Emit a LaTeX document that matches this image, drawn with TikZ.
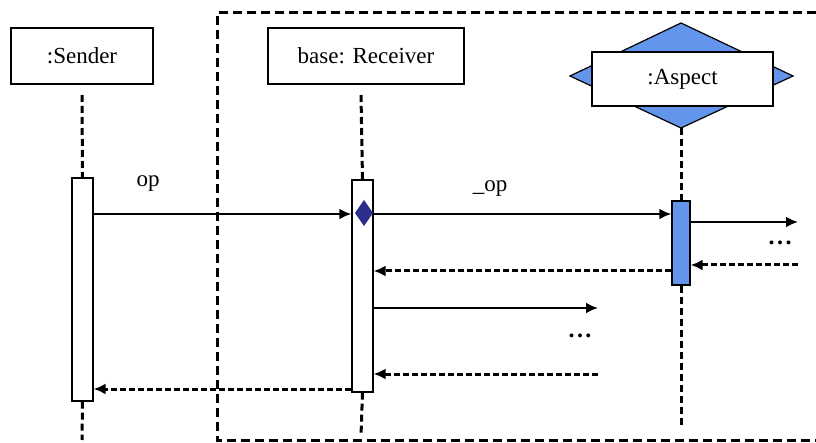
\documentclass[tikz,border=0pt]{standalone}
\usepackage{fontspec}
\setmainfont{Liberation Serif}
\usetikzlibrary{arrows.meta}
\definecolor{aspectblue}{RGB}{100,149,237}
\definecolor{navy}{RGB}{45,45,140}
\tikzset{
  objbox/.style={draw=black, line width=1.4pt, fill=white, inner sep=0pt, font=\fontsize{23}{27}\selectfont},
  actbox/.style={draw=black, line width=1.2pt, fill=white, inner sep=0pt},
  lifeline/.style={line width=3pt, dash pattern=on 7pt off 4pt},
  framestyle/.style={line width=3pt, dash pattern=on 9pt off 5pt},
  callarrow/.style={line width=2.6pt, -{Latex[length=12pt,width=11pt]}},
  retarrow/.style={line width=3pt, dash pattern=on 6pt off 3pt, -{Latex[length=12pt,width=11pt]}},
  lbl/.style={font=\fontsize{23}{27}\selectfont, inner sep=0pt},
  dots/.style={font=\fontsize{24}{28}\selectfont\bfseries, inner sep=0pt}
}
\begin{document}
\begin{tikzpicture}[x=1pt,y=-1pt]
\useasboundingbox (0,0) rectangle (816,443);
\fill[white] (0,0) rectangle (816,443);
% frame
\draw[framestyle] (816,13) -- (217,13) -- (217,440) -- (816,440);
% aspect diamond
\fill[aspectblue] (570,76) -- (681,23) -- (793,76) -- (681,128) -- cycle;
\draw[line width=1.2pt] (570,76) -- (681,23) -- (793,76) -- (681,128) -- cycle;
% object boxes
\node[objbox, minimum width=142pt, minimum height=56pt] (sender) at (82,56) {:Sender};
\node[objbox, minimum width=196pt, minimum height=56pt] (receiver) at (366,56) {base: Receiver};
\node[objbox, minimum width=181pt, minimum height=54pt] (aspect) at (682.5,79) {:Aspect};
\coordinate (adiam) at (681,128);
% activation boxes
\node[actbox, minimum width=21pt, minimum height=223pt] (sA) at (82.5,289.5) {};
\node[actbox, minimum width=21pt, minimum height=212pt] (rA) at (362.5,286) {};
\node[actbox, fill=aspectblue, minimum width=18pt, minimum height=84pt] (aA) at (681,243) {};
% lifelines
\draw[lifeline] (82,95) -- (sA.north);
\draw[lifeline] (sA.south) -- (82,440);
\draw[lifeline] (361,95) -- (rA.north);
\draw[lifeline] (rA.south) -- (361,436);
\draw[lifeline] (adiam) -- (aA.north);
\draw[lifeline] (aA.south) -- (681,428);
% free ends
\coordinate (e1) at (798,222);
\coordinate (e2) at (798,265);
\coordinate (e3) at (598,308);
\coordinate (e4) at (598,374);
% messages
\draw[callarrow] (sA.east |- 0,214) -- (rA.west |- 0,214);
\node[lbl] (oplbl) at (148,184) {op};
\draw[callarrow] (rA.east |- 0,214) -- (aA.west |- 0,214);
\node[lbl] (uoplbl) at (490,189) {\_op};
\draw[callarrow] (aA.east |- e1) -- (e1);
\node[dots] (d1) at (780,243) {.\hspace{2.5pt}.\hspace{2.5pt}.};
\draw[retarrow] (e2) -- (aA.east |- e2);
\draw[retarrow] (aA.west |- 0,271) -- (rA.east |- 0,271);
\draw[callarrow] (rA.east |- e3) -- (e3);
\node[dots] (d2) at (580,336) {.\hspace{2.5pt}.\hspace{2.5pt}.};
\draw[retarrow] (e4) -- (rA.east |- e4);
\draw[retarrow] (rA.west |- 0,389) -- (sA.east |- 0,389);
% receiver diamond
\coordinate (rd) at (364,213);
\fill[navy] (355,213) -- (364,200) -- (373,213) -- (364,226) -- cycle;
\end{tikzpicture}
\end{document}
